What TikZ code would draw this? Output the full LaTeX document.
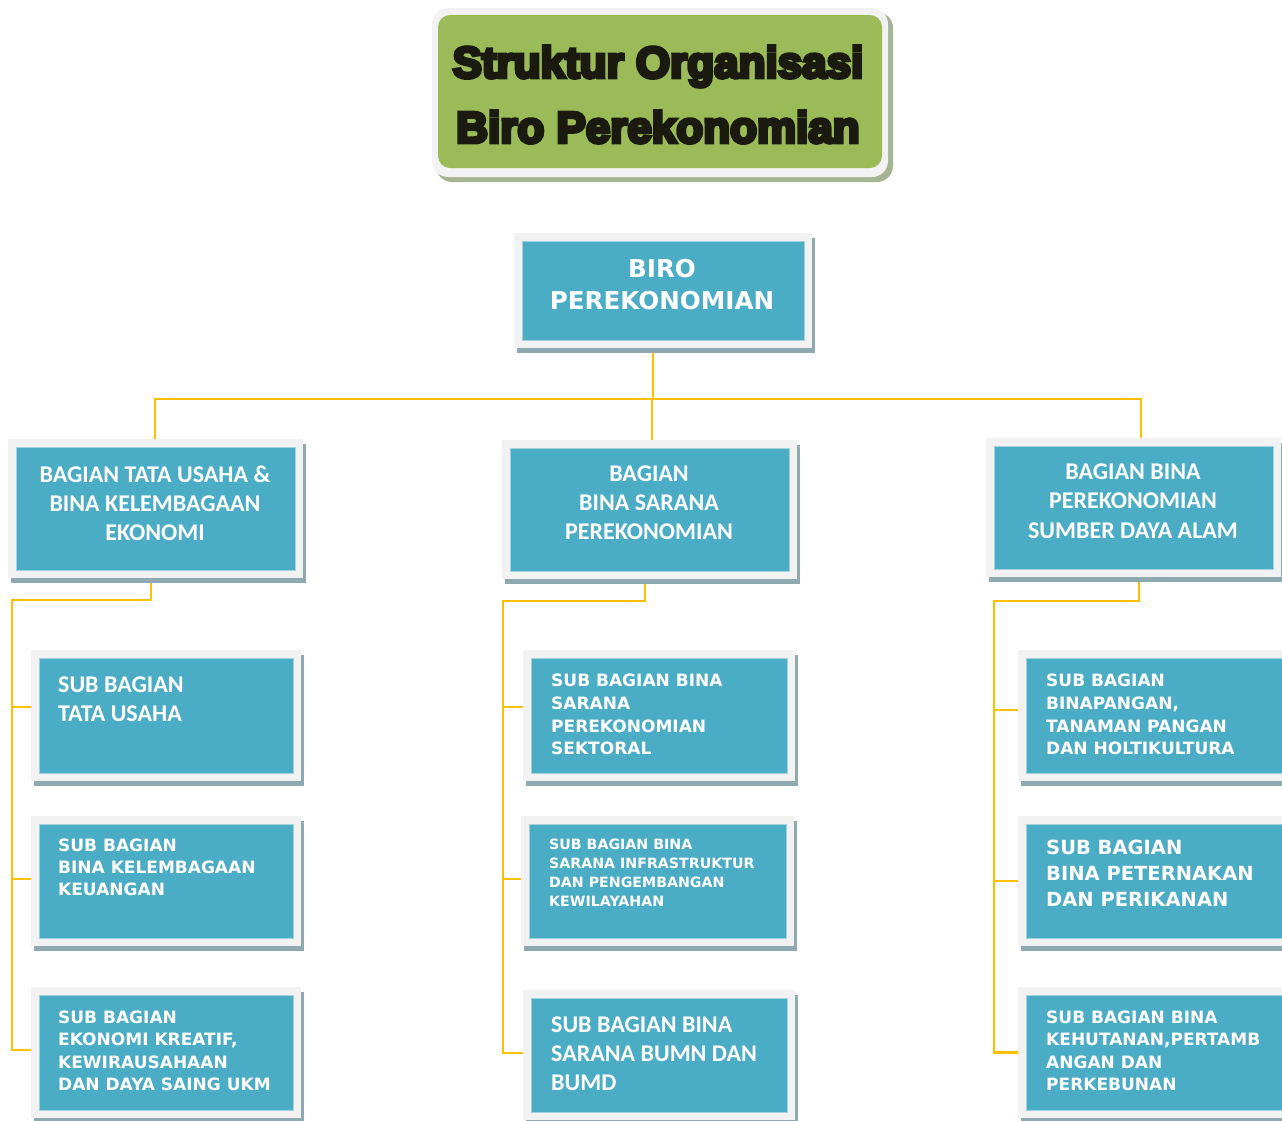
\documentclass[tikz,border=0pt]{standalone}
\usepackage{fontspec}
\usetikzlibrary{fit}
\newfontfamily\dv{DejaVu Sans}
\newfontfamily\carl{Carlito}
\newfontfamily\titlef{Liberation Sans}[BoldFeatures={FakeBold=8}]
\definecolor{tealc}{HTML}{4BACC6}
\definecolor{tealedge}{HTML}{A3D2DF}
\definecolor{framec}{HTML}{F2F2F2}
\definecolor{shadowc}{HTML}{8FA9B1}
\definecolor{connc}{HTML}{FFC000}
\definecolor{greenc}{HTML}{9BBB59}
\definecolor{gshadow}{HTML}{A7B494}
\definecolor{titlec}{HTML}{1A1A10}
\pgfdeclarelayer{bgw}
\pgfdeclarelayer{conn}
\pgfdeclarelayer{frame}
\pgfsetlayers{bgw,conn,frame,main}
\tikzset{
  tealbox/.style={fill=tealc, draw=tealedge, line width=0.8pt, inner sep=0pt},
  conn/.style={draw=connc, line width=2.1pt},
  lbl/.style={text=white, inner sep=0pt, anchor=north west, align=left},
  ctr/.style={text=white, inner sep=0pt, anchor=north, align=center},
}
\newcommand\orgunit[5]{%
  \begin{pgfonlayer}{frame}
    \fill[shadowc] (#2-5,#3-3) rectangle (#4+11,#5+13);
    \fill[framec] (#2-8,#3-8) rectangle (#4+8,#5+8);
  \end{pgfonlayer}
  \node[tealbox, fit={(#2,#3) (#4,#5)}] (#1) {};
}
\begin{document}
\begin{tikzpicture}[x=1pt,y=-1pt]
\useasboundingbox (0,0) rectangle (1282,1120);
\begin{pgfonlayer}{bgw}
\fill[white] (0,0) rectangle (1282,1120);
\end{pgfonlayer}

% title
\fill[gshadow, rounded corners=16pt] (436,12) rectangle (893,182);
\fill[framec, rounded corners=16pt] (432,8) rectangle (888,177);
\fill[greenc, rounded corners=12pt] (438,15) rectangle (882,168);
\node[font={\titlef\bfseries\fontsize{44}{65}\selectfont}, text=titlec, align=center, inner sep=0pt] (title) at (658,94.5) {Struktur Organisasi\\Biro Perekonomian};

% boxes
\orgunit{biro}{522}{241}{804}{340}
\orgunit{b1}{16}{447}{295}{570}
\orgunit{b2}{510}{448}{789}{571}
\orgunit{b3}{994}{446}{1273}{569}
\orgunit{s11}{39}{658}{293}{773}
\orgunit{s12}{39}{824}{293}{938}
\orgunit{s13}{39}{995}{293}{1110}
\orgunit{s21}{531}{658}{787}{773}
\orgunit{s22}{529}{824}{786}{938}
\orgunit{s23}{531}{998}{787}{1112}
\orgunit{s31}{1026}{658}{1295}{773}
\orgunit{s32}{1026}{824}{1295}{938}
\orgunit{s33}{1026}{995}{1295}{1110}

% texts
\node[ctr, font={\dv\bfseries\fontsize{24.6}{32}\selectfont}] (tbiro) at (662,259) {BIRO\\PEREKONOMIAN};
\node[ctr, font={\carl\bfseries\fontsize{24}{29}\selectfont}] (tb1) at (155,465.4) {BAGIAN TATA USAHA \&\\BINA KELEMBAGAAN\\EKONOMI};
\node[ctr, font={\carl\bfseries\fontsize{24}{29}\selectfont}] (tb2) at (649,465.4) {BAGIAN\\BINA SARANA\\PEREKONOMIAN};
\node[ctr, font={\carl\bfseries\fontsize{24}{29.5}\selectfont}] (tb3) at (1133,463.4) {BAGIAN BINA\\PEREKONOMIAN\\SUMBER DAYA ALAM};

\node[lbl, font={\carl\bfseries\fontsize{24}{29}\selectfont}] (ts11) at (58,676.4) {SUB BAGIAN\\TATA USAHA};
\node[lbl, font={\dv\bfseries\fontsize{17}{22}\selectfont}] (ts12) at (58,838.8) {SUB BAGIAN\\BINA KELEMBAGAAN\\KEUANGAN};
\node[lbl, font={\dv\bfseries\fontsize{17}{22.3}\selectfont}] (ts13) at (58,1010.8) {SUB BAGIAN\\EKONOMI KREATIF,\\KEWIRAUSAHAAN\\DAN DAYA SAING UKM};

\node[lbl, font={\dv\bfseries\fontsize{17}{22.7}\selectfont}] (ts21) at (551,673.8) {SUB BAGIAN BINA\\SARANA\\PEREKONOMIAN\\SEKTORAL};
\node[lbl, font={\dv\bfseries\fontsize{14.2}{19}\selectfont}] (ts22) at (549,838.8) {SUB BAGIAN BINA\\SARANA INFRASTRUKTUR\\DAN PENGEMBANGAN\\KEWILAYAHAN};
\node[lbl, font={\carl\bfseries\fontsize{24}{29}\selectfont}] (ts23) at (551,1016.4) {SUB BAGIAN BINA\\SARANA BUMN DAN\\BUMD};

\node[lbl, font={\dv\bfseries\fontsize{17}{22.7}\selectfont}] (ts31) at (1046,673.8) {SUB BAGIAN\\BINAPANGAN,\\TANAMAN PANGAN\\DAN HOLTIKULTURA};
\node[lbl, font={\dv\bfseries\fontsize{19.5}{26}\selectfont}] (ts32) at (1046,839.9) {SUB BAGIAN\\BINA PETERNAKAN\\DAN PERIKANAN};
\node[lbl, font={\dv\bfseries\fontsize{17}{22.3}\selectfont}] (ts33) at (1046,1010.8) {SUB BAGIAN BINA\\KEHUTANAN,PERTAMB\\ANGAN DAN\\PERKEBUNAN};

% connectors
\begin{pgfonlayer}{conn}
\coordinate (bus) at (653,399);
\draw[conn] ([xshift=-10pt]biro.south) -- (bus);
\draw[conn] ([xshift=-0.5pt]b1.north) |- (bus);
\draw[conn] ([xshift=7.5pt]b3.north) |- (bus);
\draw[conn] ([xshift=2.5pt]b2.north) -- ([xshift=2.5pt]b2.north |- bus);

\coordinate (lbus) at (12,600);
\draw[conn] ([xshift=-4.5pt]b1.south) |- (lbus) |- ([yshift=2.5pt]s13.west);
\draw[conn] ([yshift=8.5pt]s11.west -| lbus) -- ([yshift=8.5pt]s11.west);
\draw[conn] ([yshift=2pt]s12.west -| lbus) -- ([yshift=2pt]s12.west);

\coordinate (mbus) at (503,601);
\draw[conn] ([xshift=-4.5pt]b2.south) |- (mbus) |- ([yshift=2pt]s23.west);
\draw[conn] ([yshift=8.5pt]s21.west -| mbus) -- ([yshift=8.5pt]s21.west);
\draw[conn] ([yshift=2pt]s22.west -| mbus) -- ([yshift=2pt]s22.west);

\coordinate (rbus) at (994,601);
\draw[conn] ([xshift=5.5pt]b3.south) |- (rbus) |- (s33.west);
\draw[conn] ([yshift=5.5pt]s31.west -| rbus) -- ([yshift=5.5pt]s31.west);
\draw[conn] (s32.west -| rbus) -- (s32.west);
\end{pgfonlayer}
\end{tikzpicture}
\end{document}
